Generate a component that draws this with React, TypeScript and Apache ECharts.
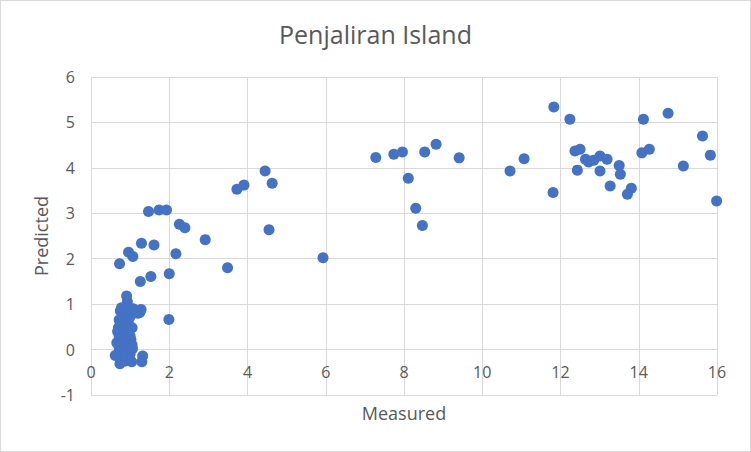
import React, { useEffect, useRef } from "react";
import * as echarts from "echarts";

const title = "Penjaliran Island";
const xName = "Measured";
const yName = "Predicted";

// [measured, predicted]
const clusterPoints: number[][] = [
  [0.62, -0.13], [0.70, -0.08], [0.74, -0.31], [0.80, -0.22], [0.88, -0.25], [0.95, -0.20],
  [1.04, -0.27], [1.00, -0.10], [0.72, 0.05], [0.82, 0.02], [0.90, 0.00], [0.98, 0.05],
  [1.06, 0.02], [0.66, 0.15], [0.75, 0.18], [0.85, 0.12], [0.93, 0.20], [1.02, 0.22],
  [0.72, 0.30], [0.80, 0.35], [0.90, 0.32], [0.97, 0.40], [0.70, 0.48], [0.78, 0.55],
  [0.86, 0.50], [0.95, 0.60], [1.05, 0.48], [0.72, 0.65], [0.82, 0.70], [0.90, 0.75],
  [1.00, 0.72], [0.75, 0.85], [0.85, 0.90], [0.95, 0.82], [1.10, 0.83], [1.20, 0.80],
  [1.28, 0.88], [1.25, 0.82], [0.93, 1.05], [0.91, 1.18], [1.08, 0.90], [0.78, 0.92],
  [1.32, -0.14], [1.30, -0.27], [0.68, 0.40], [1.00, 0.30], [1.05, 0.10],
];

const lowPoints: number[][] = [
  [1.47, 3.04], [1.74, 3.07], [1.93, 3.07], [2.26, 2.76], [2.40, 2.68], [2.92, 2.42],
  [4.55, 2.64], [5.93, 2.02], [1.29, 2.34], [1.61, 2.30], [0.96, 2.14], [1.07, 2.05],
  [0.73, 1.89], [2.17, 2.11], [2.00, 1.67], [3.49, 1.80], [1.53, 1.61], [1.26, 1.50],
  [1.99, 0.66], [3.73, 3.53], [3.91, 3.62], [4.45, 3.93], [4.63, 3.66],
];

const highPoints: number[][] = [
  [7.28, 4.23], [7.74, 4.30], [7.96, 4.35], [8.53, 4.35], [8.82, 4.52], [9.41, 4.22],
  [8.11, 3.77], [8.30, 3.11], [8.47, 2.73], [10.71, 3.93], [11.07, 4.20], [11.83, 5.34],
  [12.24, 5.07], [11.81, 3.46], [12.37, 4.37], [12.50, 4.41], [12.43, 3.95], [12.64, 4.19],
  [12.72, 4.13], [12.85, 4.17], [13.01, 4.26], [13.19, 4.19], [13.01, 3.93], [13.50, 4.05],
  [13.53, 3.86], [13.27, 3.60], [13.81, 3.55], [13.71, 3.42], [14.12, 5.07], [14.75, 5.20],
  [14.08, 4.33], [14.27, 4.41], [15.14, 4.04], [15.63, 4.70], [15.83, 4.28], [15.99, 3.27],
];

const allPoints = [...clusterPoints, ...lowPoints, ...highPoints];

const yMin = -1;
const yMax = 6;
const font = "Open Sans, Noto Sans, sans-serif";

export default function App() {
  const ref = useRef<HTMLDivElement>(null);
  useEffect(() => {
    document.body.style.margin = "0";
    if (!ref.current) return;
    const chart = echarts.init(ref.current, null, { renderer: "svg" });
    const gridTop = 76;
    const gridBottom = 56;
    const gridHeight = 450 - gridTop - gridBottom;
    const zeroOffset = -(gridHeight * (0 - yMin)) / (yMax - yMin);
    chart.setOption({
      animation: false,
      backgroundColor: "#ffffff",
      title: {
        text: title,
        left: "center",
        top: 15,
        textStyle: { fontFamily: font, fontSize: 25, fontWeight: "normal", color: "#595959" },
      },
      grid: { left: 90, right: 33, top: gridTop, bottom: gridBottom, outerBoundsMode: "none", containLabel: false },
      xAxis: {
        type: "value",
        min: 0,
        max: 16,
        interval: 2,
        offset: zeroOffset,
        name: xName,
        nameLocation: "middle",
        nameGap: 54,
        nameTextStyle: { fontFamily: font, fontSize: 18, color: "#595959" },
        axisLine: { show: true, onZero: false, lineStyle: { color: "#d9d9d9", width: 1 } },
        axisTick: { show: false },
        axisLabel: { fontFamily: font, fontSize: 16, color: "#595959", margin: 14 },
        splitLine: { show: true, lineStyle: { color: "#d9d9d9", width: 1 } },
      },
      yAxis: {
        type: "value",
        min: yMin,
        max: yMax,
        interval: 1,
        name: yName,
        nameLocation: "middle",
        nameGap: 40,
        nameTextStyle: { fontFamily: font, fontSize: 18, color: "#595959" },
        axisLine: { show: true, onZero: false, lineStyle: { color: "#d9d9d9", width: 1 } },
        axisTick: { show: false },
        axisLabel: { fontFamily: font, fontSize: 16, color: "#595959", margin: 16 },
        splitLine: { show: true, lineStyle: { color: "#d9d9d9", width: 1 } },
      },
      series: [
        {
          type: "scatter",
          data: allPoints,
          symbol: "circle",
          symbolSize: 11,
          itemStyle: { color: "#4472C4", opacity: 1 },
        },
      ],
    });
    return () => chart.dispose();
  }, []);
  return (
    <div
      style={{ width: 751, height: 452, boxSizing: "border-box", border: "1px solid #d9d9d9", background: "#fff" }}
    >
      <div ref={ref} style={{ width: 749, height: 450 }} />
    </div>
  );
}
